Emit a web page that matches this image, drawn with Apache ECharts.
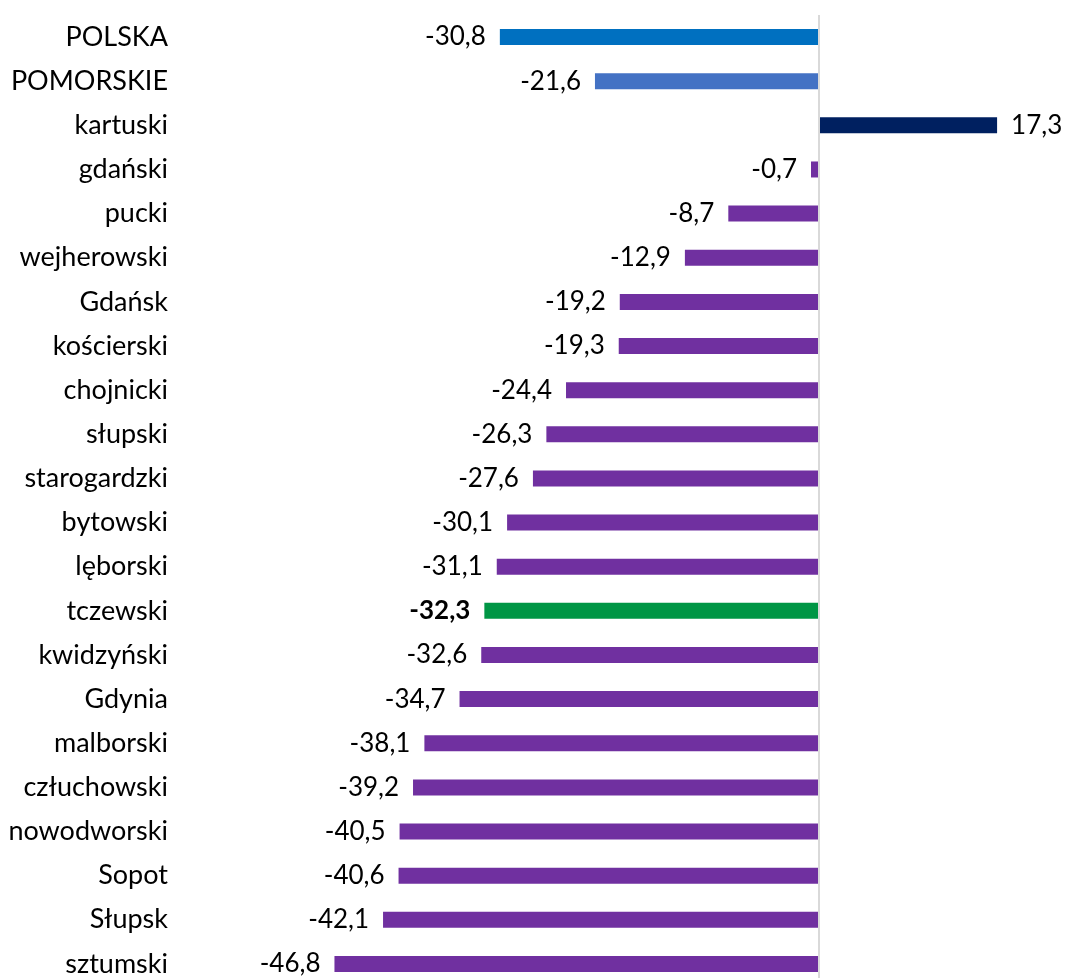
<!DOCTYPE html>
<html>
<head>
<meta charset="utf-8">
<script src="https://cdn.jsdelivr.net/npm/echarts@6/dist/echarts.min.js"></script>
<style>
  html, body { margin: 0; padding: 0; background: #fff; overflow: hidden; }
  /* wykres wyższy niż okno - dół przycięty jak w oryginale */
  #chart { width: 1068px; height: 986px; }
</style>
</head>
<body>
<div id="chart"></div>
<script>
/* dane */
const categories = ['POLSKA', 'POMORSKIE', 'kartuski', 'gdański', 'pucki', 'wejherowski', 'Gdańsk',
  'kościerski', 'chojnicki', 'słupski', 'starogardzki', 'bytowski', 'lęborski', 'tczewski',
  'kwidzyński', 'Gdynia', 'malborski', 'człuchowski', 'nowodworski', 'Sopot', 'Słupsk', 'sztumski']
const values = [-30.8, -21.6, 17.3, -0.7, -8.7, -12.9, -19.2, -19.3, -24.4, -26.3, -27.6, -30.1,
  -31.1, -32.3, -32.6, -34.7, -38.1, -39.2, -40.5, -40.6, -42.1, -46.8]
// kolory wyróżnionych pozycji
const highlight = { 'POLSKA': '#0070C0', 'POMORSKIE': '#4472C4', 'kartuski': '#002060', 'tczewski': '#009645' }
const baseColor = '#7030A0'

var myChart = echarts.init(document.getElementById('chart'))

const seriesData = values.map((v, i) => ({
  value: v,
  itemStyle: { color: highlight[categories[i]] || baseColor },
  label: {
    position: v < 0 ? 'left' : 'right',
    fontWeight: categories[i] === 'tczewski' ? 'bold' : 'normal',
  },
}))

const option = {
  animation: false,
  grid: {
    left: 198,
    right: 43,
    top: 15,
    bottom: 0,
  },
  xAxis: {
    type: 'value',
    min: -60,
    max: 20,
    show: false,
  },
  yAxis: {
    type: 'category',
    inverse: true,
    data: categories,
    axisLine: { show: false, onZero: false },
    axisTick: { show: false },
    axisLabel: {
      margin: 30,
      color: '#000',
      fontSize: 27,
      fontFamily: 'Lato',
    },
  },
  series: [{
    type: 'bar',
    barWidth: 16,
    data: seriesData,
    label: {
      show: true,
      distance: 14,
      color: '#000',
      fontSize: 26,
      fontFamily: 'Lato',
      formatter: (p) => p.value.toFixed(1).replace('.', ','),
    },
    markLine: {
      silent: true,
      symbol: 'none',
      label: { show: false },
      lineStyle: { color: '#D9D9D9', type: 'solid', width: 2 },
      data: [{ xAxis: 0 }],
    },
  }],
}
myChart.setOption(option)
</script>
</body>
</html>
